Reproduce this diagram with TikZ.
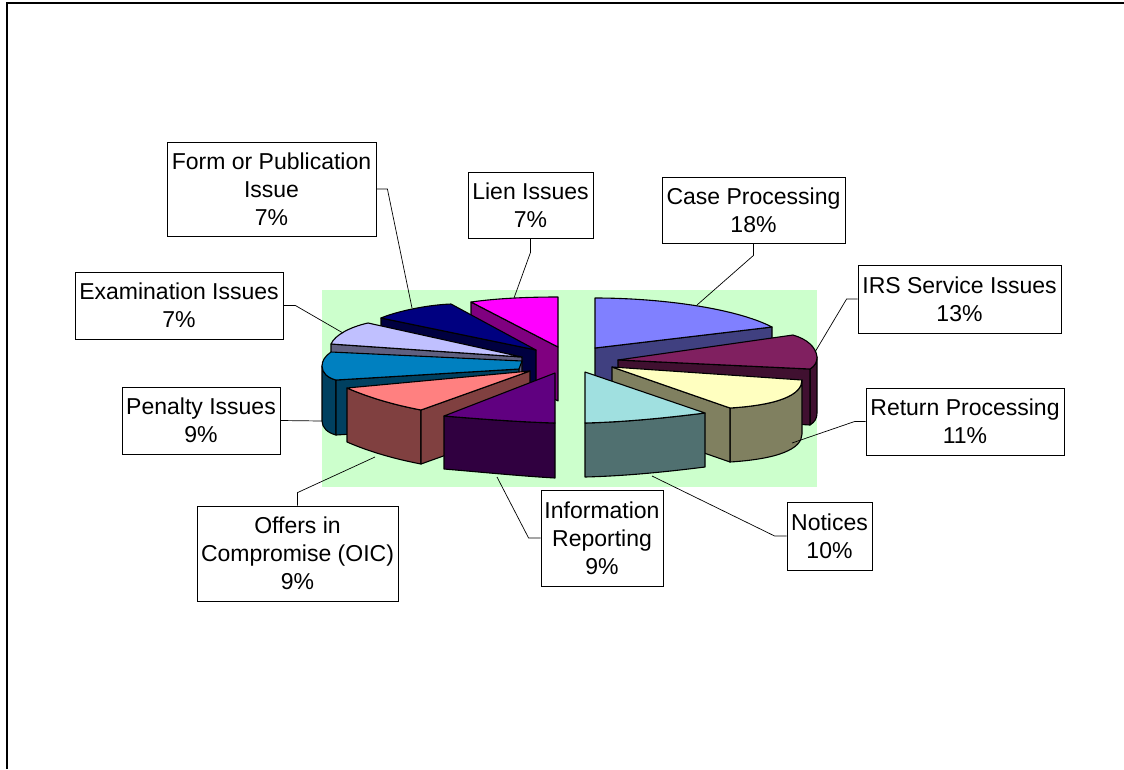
\documentclass[tikz,border=0pt]{standalone}
\usepackage{fontspec}
\setmainfont{Liberation Sans}
\usepackage{tikz}
\usetikzlibrary{positioning}
\definecolor{plotbg}{HTML}{CCFFCC}
\definecolor{casetop}{HTML}{8080FF}
\definecolor{caseside}{HTML}{404080}
\definecolor{irstop}{HTML}{802060}
\definecolor{irsside}{HTML}{401030}
\definecolor{rettop}{HTML}{FFFFC0}
\definecolor{retside}{HTML}{808060}
\definecolor{nottop}{HTML}{A0E0E0}
\definecolor{notside}{HTML}{507070}
\definecolor{infotop}{HTML}{600080}
\definecolor{infoside}{HTML}{300040}
\definecolor{oictop}{HTML}{FF8080}
\definecolor{oicside}{HTML}{804040}
\definecolor{pentop}{HTML}{0080C0}
\definecolor{penside}{HTML}{004060}
\definecolor{examtop}{HTML}{C0C0FF}
\definecolor{examside}{HTML}{606080}
\definecolor{formtop}{HTML}{000080}
\definecolor{formside}{HTML}{000040}
\definecolor{lientop}{HTML}{FF00FF}
\definecolor{lienside}{HTML}{800080}
\newcommand{\lblfont}{\fontsize{23}{28}\selectfont}

\begin{document}
\begin{tikzpicture}[
    x=1pt, y=-1pt,
    face/.style={draw=black, line width=1.1pt, line join=round},
    lbl/.style={rectangle, draw=black, line width=0.8pt, fill=white, align=center,
                inner sep=0pt, font=\lblfont},
    leader/.style={draw=black, line width=0.7pt}
]
  \useasboundingbox (0,0) rectangle (1124,769);

  % frame
  \draw[line width=2pt] (7,769) -- (7,3) -- (1124,3);

  % plot area
  \fill[plotbg] (322,290) rectangle (817,487);

  % Lien Issues
  \filldraw[face, fill=lienside] (471,302) -- (558,347) -- (558,401) -- (471,356) -- cycle;
  \filldraw[face, fill=lientop] (471,302) .. controls (500,298) and (530,297) .. (558,297) -- (558,347) -- cycle;

  % Case Processing
  \filldraw[face, fill=caseside] (595,348) -- (772,327) -- (772,381) -- (595,402) -- cycle;
  \filldraw[face, fill=casetop] (595,298) .. controls (660,298) and (735,308) .. (772,327) -- (595,348) -- cycle;

  % Form or Publication Issue
  \filldraw[face, fill=formside] (381,318) -- (536,350) -- (536,404) -- (381,372) -- cycle;
  \filldraw[face, fill=formtop] (381,318) .. controls (395,312) and (425,305) .. (451,304) -- (536,350) -- cycle;

  % IRS Service Issues
  \filldraw[face, fill=irsside] (817,357) .. controls (817,362) and (815,366) .. (810,369) -- (810,425)
      .. controls (815,422) and (817,418) .. (817,413) -- cycle;
  \filldraw[face, fill=irsside] (618,360) -- (810,369) -- (810,425) -- (618,414) -- cycle;
  \filldraw[face, fill=irstop] (618,360) -- (793,335) .. controls (807,339) and (816,347) .. (817,357)
      .. controls (817,362) and (815,366) .. (810,369) -- cycle;

  % Examination Issues
  \filldraw[face, fill=examside] (331,344) -- (522,357) -- (522,411) -- (331,398) -- cycle;
  \filldraw[face, fill=examtop] (331,344) .. controls (335,335) and (350,327) .. (368,323) -- (522,357) -- cycle;

  % Return Processing
  \filldraw[face, fill=retside] (802,380) .. controls (802,395) and (778,405) .. (730,408) -- (730,462)
      .. controls (778,459) and (802,449) .. (802,434) -- cycle;
  \filldraw[face, fill=retside] (612,367) -- (730,408) -- (730,462) -- (612,421) -- cycle;
  \filldraw[face, fill=rettop] (612,367) -- (802,380) .. controls (802,395) and (778,405) .. (730,408) -- cycle;

  % Penalty Issues
  \filldraw[face, fill=penside] (322,366) .. controls (322,373) and (328,378) .. (336,380) -- (336,435)
      .. controls (328,433) and (322,428) .. (322,421) -- cycle;
  \filldraw[face, fill=penside] (336,380) -- (519,369) -- (519,424) -- (336,435) -- cycle;
  \filldraw[face, fill=pentop] (336,380) .. controls (328,378) and (322,373) .. (322,366)
      .. controls (322,361) and (325,356) .. (331,352) -- (522,361) -- (519,369) -- cycle;

  % Offers in Compromise
  \filldraw[face, fill=oicside] (347,388) .. controls (370,398) and (395,405) .. (421,410) -- (421,464)
      .. controls (395,459) and (370,452) .. (347,442) -- cycle;
  \filldraw[face, fill=oicside] (421,410) -- (530,371) -- (530,425) -- (421,464) -- cycle;
  \filldraw[face, fill=oictop] (347,388) .. controls (370,398) and (395,405) .. (421,410) -- (530,371) -- cycle;

  % Notices
  \filldraw[face, fill=notside] (585,423) .. controls (625,422) and (665,418) .. (705,413) -- (705,467)
      .. controls (665,472) and (625,476) .. (585,477) -- cycle;
  \filldraw[face, fill=nottop] (585,372) -- (705,413) .. controls (665,418) and (625,422) .. (585,423) -- cycle;

  % Information Reporting
  \filldraw[face, fill=infoside] (444,416) .. controls (480,419) and (520,422) .. (555,423) -- (555,478)
      .. controls (520,476) and (480,472) .. (444,469) -- cycle;
  \filldraw[face, fill=infotop] (555,373) -- (444,416) .. controls (480,419) and (520,422) .. (555,423) -- cycle;

  % leader ends on the slices
  \coordinate (caseend) at (697,305);
  \coordinate (irsend) at (815,352);
  \coordinate (retend) at (792,443);
  \coordinate (notend) at (652,476);
  \coordinate (infoend) at (497,477);
  \coordinate (oicend) at (375,457);
  \coordinate (penend) at (322,421);
  \coordinate (examend) at (343,333);
  \coordinate (formend) at (412,308);
  \coordinate (lienend) at (514,298);

  % Labels
  \node[lbl, minimum width=183, minimum height=66] (case) at (753.5,210) {Case Processing\\18\%};
  \node[lbl, minimum width=203, minimum height=68] (irs) at (959.5,299) {IRS Service Issues\\13\%};
  \node[lbl, minimum width=198, minimum height=67] (ret) at (965,421.5) {Return Processing\\11\%};
  \node[lbl, minimum width=85, minimum height=68] (not) at (829.5,536) {Notices\\10\%};
  \node[lbl, minimum width=122, minimum height=96] (info) at (602,538) {Information\\Reporting\\9\%};
  \node[lbl, minimum width=201, minimum height=95] (oic) at (297.5,553.5) {Offers in\\Compromise (OIC)\\9\%};
  \node[lbl, minimum width=158, minimum height=67] (pen) at (201,420.5) {Penalty Issues\\9\%};
  \node[lbl, minimum width=208, minimum height=67] (exam) at (179,305.5) {Examination Issues\\7\%};
  \node[lbl, minimum width=209, minimum height=94] (form) at (271.5,189) {Form or Publication\\Issue\\7\%};
  \node[lbl, minimum width=125, minimum height=66] (lien) at (530.5,205) {Lien Issues\\7\%};

  % Leader lines
  \draw[leader] (case.south) -- ++(0,12) -- (caseend);
  \draw[leader] (irs.west) -- ++(-11,0) -- (irsend);
  \draw[leader] (ret.west) -- ++(-11,0) -- (retend);
  \draw[leader] (not.west) -- ++(-12,0) -- (notend);
  \draw[leader] (info.west) -- ++(-12,0) -- (infoend);
  \draw[leader] (oic.north) -- ++(0,-13) -- (oicend);
  \draw[leader] (pen.east) -- (penend);
  \draw[leader] (exam.east) -- ++(12,0) -- (examend);
  \draw[leader] (form.east) -- ++(11,0) -- (formend);
  \draw[leader] (lien.south) -- ++(0,14) -- (lienend);

\end{tikzpicture}
\end{document}
